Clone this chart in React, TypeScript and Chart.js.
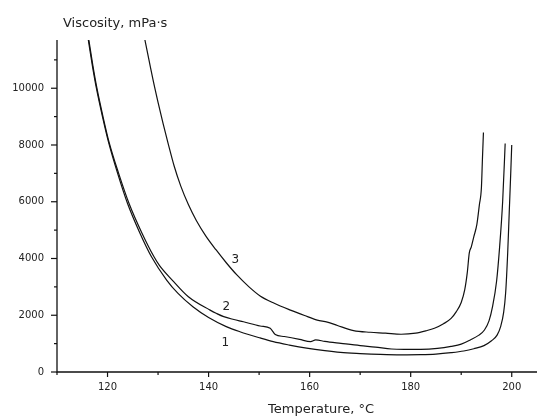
import React, { useEffect, useRef } from "react";
import { Chart, registerables } from "chart.js";

Chart.register(...registerables);

// Temperature (°C) / viscosity (mPa·s) pairs
const curve1: [number, number][] = [
  [116.2, 11700], [117.0, 10800], [117.8, 10000], [119.0, 9000], [120.2, 8100],
  [122.0, 7000], [124.0, 5920], [126.4, 4900], [128.7, 4060], [131.7, 3240],
  [134.0, 2760], [136.9, 2300], [140.0, 1920], [143.5, 1600], [146.2, 1420],
  [150.2, 1200], [152.8, 1070], [156.0, 950], [159.4, 840], [163.0, 750],
  [166.1, 690], [170.0, 650], [174.0, 620], [178.0, 605], [182.0, 610],
  [185.0, 630], [188.0, 680], [190.5, 740], [192.5, 820], [194.5, 930],
  [196.0, 1100], [197.1, 1300], [197.8, 1600], [198.4, 2100], [198.8, 2800],
  [199.2, 4200], [199.5, 5600], [199.8, 7000], [200.0, 8000],
];

const curve2: [number, number][] = [
  [116.3, 11700], [117.1, 10800], [117.9, 10000], [119.1, 9000], [120.3, 8100],
  [122.2, 7000], [124.3, 5920], [126.8, 4900], [129.2, 4060], [130.3, 3750],
  [132.8, 3240], [136.0, 2650], [140.3, 2180], [141.6, 2060], [143.0, 1950],
  [145.0, 1850], [146.9, 1770], [150.2, 1620], [152.2, 1540], [153.2, 1320],
  [155.0, 1250], [158.0, 1150], [160.2, 1070], [161.2, 1130], [163.0, 1080],
  [166.2, 1010], [170.0, 930], [173.0, 880], [176.2, 810], [178.7, 800],
  [182.0, 800], [185.3, 830], [188.0, 900], [190.0, 980], [191.8, 1130],
  [193.5, 1300], [194.6, 1480], [195.5, 1800], [196.2, 2300], [197.0, 3200],
  [197.6, 4400], [198.2, 6000], [198.7, 8050],
];

const curve3: [number, number][] = [
  [127.4, 11700], [128.2, 11000], [129.0, 10300], [130.0, 9500], [131.0, 8750],
  [132.0, 8050], [133.2, 7250], [134.5, 6550], [136.0, 5900], [137.6, 5330],
  [139.5, 4780], [141.5, 4300], [143.5, 3850], [145.6, 3420], [148.0, 3000],
  [150.2, 2680], [153.0, 2420], [156.2, 2180], [159.0, 1990], [161.5, 1830],
  [163.5, 1760], [165.5, 1640], [168.7, 1460], [172.0, 1400], [175.0, 1370],
  [178.1, 1330], [181.0, 1370], [183.0, 1450], [184.7, 1540], [186.5, 1700],
  [188.0, 1890], [189.0, 2120], [190.0, 2450], [190.7, 2900], [191.2, 3500],
  [191.6, 4200], [192.0, 4410], [192.5, 4770], [193.1, 5200], [193.6, 5900],
  [194.0, 6500], [194.2, 7500], [194.4, 8440],
];

const curveLabels = ["1", "2", "3"];
const labelPositions: [number, number][] = [[143.3, 1020], [143.5, 2290], [145.3, 3940]];

const xMajorTicks = [120, 140, 160, 180, 200];
const xMinorTicks = [110, 130, 150, 170, 190];
const yMajorTicks = [0, 2000, 4000, 6000, 8000, 10000];
const yMinorTicks = [1000, 3000, 5000, 7000, 9000, 11000];

const xTitle = "Temperature, °C";
const yTitle = "Viscosity, mPa·s";

const FONT = "'DejaVu Sans', Verdana, sans-serif";

export default function App() {
  const ref = useRef<HTMLCanvasElement | null>(null);

  useEffect(() => {
    document.body.style.margin = "0";
    const canvas = ref.current;
    if (!canvas) return;

    const decor = {
      id: "decor",
      afterDraw(chart: any) {
        const ctx = chart.ctx;
        const xs = chart.scales.x;
        const ys = chart.scales.y;
        const area = chart.chartArea;
        ctx.save();
        ctx.strokeStyle = "#111";
        ctx.lineWidth = 1.3;
        ctx.beginPath();
        ctx.moveTo(area.left, area.top);
        ctx.lineTo(area.left, area.bottom);
        ctx.lineTo(area.right, area.bottom);
        ctx.stroke();
        ctx.lineWidth = 1.2;
        const tick = (x1: number, y1: number, x2: number, y2: number) => {
          ctx.beginPath();
          ctx.moveTo(x1, y1);
          ctx.lineTo(x2, y2);
          ctx.stroke();
        };
        xMajorTicks.forEach((v) => {
          const p = xs.getPixelForValue(v);
          tick(p, area.bottom, p, area.bottom + 5);
        });
        xMinorTicks.forEach((v) => {
          const p = xs.getPixelForValue(v);
          tick(p, area.bottom, p, area.bottom + 3);
        });
        yMajorTicks.forEach((v) => {
          const p = ys.getPixelForValue(v);
          tick(area.left, p, area.left - 6, p);
        });
        yMinorTicks.forEach((v) => {
          const p = ys.getPixelForValue(v);
          tick(area.left, p, area.left - 3, p);
        });
        ctx.fillStyle = "#222";
        ctx.font = `12px ${FONT}`;
        ctx.textAlign = "center";
        ctx.textBaseline = "middle";
        curveLabels.forEach((t, i) => {
          const [tx, ty] = labelPositions[i];
          ctx.fillText(t, xs.getPixelForValue(tx), ys.getPixelForValue(ty));
        });
        ctx.font = `13px ${FONT}`;
        ctx.textAlign = "left";
        ctx.textBaseline = "alphabetic";
        ctx.fillText(yTitle, 63, 26.5);
        ctx.fillText(xTitle, 268, 413);
        ctx.restore();
      },
    };

    const mk = (data: [number, number][]) => ({
      data: data.map(([x, y]) => ({ x, y })),
      borderColor: "#111",
      borderWidth: 1.2,
      pointRadius: 0,
      fill: false,
      cubicInterpolationMode: "monotone" as const,
    });

    const chart = new Chart(canvas, {
      type: "line",
      data: { datasets: [mk(curve1), mk(curve2), mk(curve3)] },
      options: {
        animation: false,
        responsive: false,
        devicePixelRatio: 1,
        layout: { padding: { top: 40, right: 0, left: 0, bottom: 0 } },
        plugins: { legend: { display: false }, tooltip: { enabled: false } },
        scales: {
          x: {
            type: "linear",
            min: 110,
            max: 205,
            grid: { display: false, drawTicks: false },
            border: { display: false },
            afterBuildTicks: (s: any) => {
              s.ticks = xMajorTicks.map((v) => ({ value: v }));
            },
            afterFit: (s: any) => {
              s.height = 47;
            },
            ticks: {
              padding: 9,
              color: "#222",
              font: { family: FONT, size: 10 },
              maxRotation: 0,
              autoSkip: false,
            },
          },
          y: {
            type: "linear",
            min: 0,
            max: 11700,
            grid: { display: false, drawTicks: false },
            border: { display: false },
            afterBuildTicks: (s: any) => {
              s.ticks = yMajorTicks.map((v) => ({ value: v }));
            },
            afterFit: (s: any) => {
              s.width = 57;
            },
            ticks: {
              padding: 13,
              color: "#222",
              font: { family: FONT, size: 10 },
              autoSkip: false,
              callback: (v: any) => String(v),
            },
          },
        },
      },
      plugins: [decor],
    });

    return () => chart.destroy();
  }, []);

  return <canvas ref={ref} width={537} height={419} style={{ display: "block" }} />;
}
